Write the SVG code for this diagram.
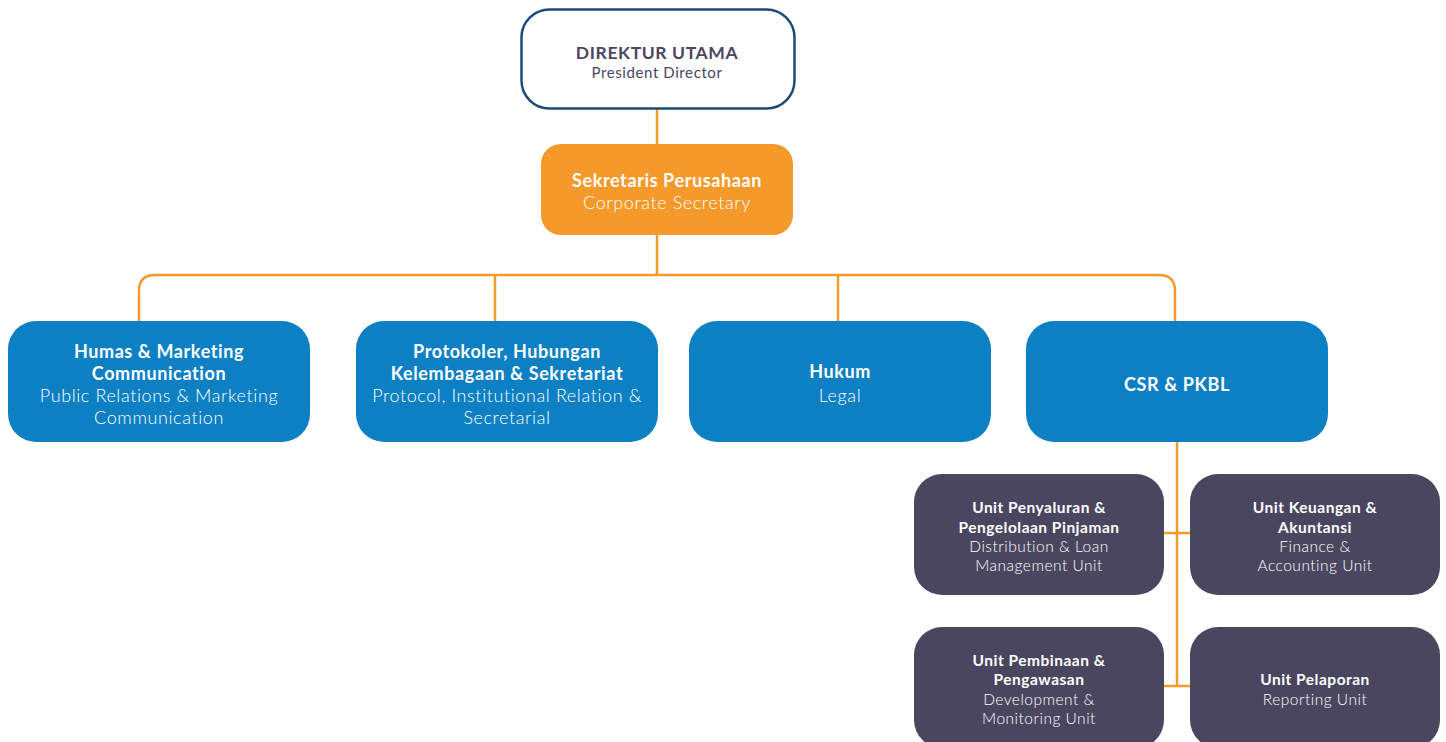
<svg xmlns="http://www.w3.org/2000/svg" width="1446" height="742" viewBox="0 0 1446 742">
  <style>
    text { font-family: Lato, "Open Sans", "Liberation Sans", sans-serif; text-anchor: middle; }
    .b { font-weight: 700; }
    .l { font-weight: 300; }
    .top { fill: #ffffff; stroke: #1d4b77; stroke-width: 2.5; }
    .sec { fill: #f5992b; }
    .dept { fill: #0d80c4; }
    .unit { fill: #4a465f; }
    .wire { fill: none; stroke: #f5992b; stroke-width: 2.5; }
    .t17 { font-size: 18px; letter-spacing: 0.6px; fill: #ffffff; }
    .t14 { font-size: 15.5px; letter-spacing: 0.5px; fill: #ffffff; }
    .head { font-size: 17.5px; letter-spacing: 0.6px; fill: #4a465f; }
    .sub { font-size: 15px; letter-spacing: 0.6px; fill: #4a465f; }
  </style>

  <!-- connectors -->
  <g id="connectors">
    <line class="wire" x1="657" y1="109" x2="657" y2="144"/>
    <line class="wire" x1="657" y1="235" x2="657" y2="275"/>
    <path class="wire" d="M139 321 V291 Q139 275 155 275 H1159 Q1175 275 1175 291 V321"/>
    <line class="wire" x1="495" y1="275" x2="495" y2="321"/>
    <line class="wire" x1="838" y1="275" x2="838" y2="321"/>
    <line class="wire" x1="1177" y1="442" x2="1177" y2="686"/>
    <line class="wire" x1="1164" y1="533" x2="1190" y2="533"/>
    <line class="wire" x1="1164" y1="686" x2="1190" y2="686"/>
  </g>

  <g id="president-director">
    <rect class="top" x="521.5" y="9.5" width="273" height="99" rx="28"/>
    <text x="657" y="59" class="b head">DIREKTUR UTAMA</text>
    <text x="657" y="78" class="sub">President Director</text>
  </g>

  <g id="corporate-secretary">
    <rect class="sec" x="541" y="144" width="252" height="91" rx="20"/>
    <text x="667" y="187" class="b t17">Sekretaris Perusahaan</text>
    <text x="667" y="209" class="l t17">Corporate Secretary</text>
  </g>

  <g id="public-relations">
    <rect class="dept" x="8" y="321" width="302" height="121" rx="28"/>
    <text x="159" y="358" class="b t17">Humas &amp; Marketing</text>
    <text x="159" y="380" class="b t17">Communication</text>
    <text x="159" y="402" class="l t17">Public Relations &amp; Marketing</text>
    <text x="159" y="424" class="l t17">Communication</text>
  </g>

  <g id="protocol">
    <rect class="dept" x="356" y="321" width="302" height="121" rx="28"/>
    <text x="507" y="358" class="b t17">Protokoler, Hubungan</text>
    <text x="507" y="380" class="b t17">Kelembagaan &amp; Sekretariat</text>
    <text x="507" y="402" class="l t17">Protocol, Institutional Relation &amp;</text>
    <text x="507" y="424" class="l t17">Secretarial</text>
  </g>

  <g id="legal">
    <rect class="dept" x="689" y="321" width="302" height="121" rx="28"/>
    <text x="840" y="378" class="b t17">Hukum</text>
    <text x="840" y="402" class="l t17">Legal</text>
  </g>

  <g id="csr-pkbl">
    <rect class="dept" x="1026" y="321" width="302" height="121" rx="28"/>
    <text x="1177" y="391" class="b t17">CSR &amp; PKBL</text>
  </g>

  <g id="distribution-loan">
    <rect class="unit" x="914" y="474" width="250" height="121" rx="28"/>
    <text x="1039" y="513" class="b t14">Unit Penyaluran &amp;</text>
    <text x="1039" y="533" class="b t14">Pengelolaan Pinjaman</text>
    <text x="1039" y="552" class="l t14">Distribution &amp; Loan</text>
    <text x="1039" y="571" class="l t14">Management Unit</text>
  </g>

  <g id="finance-accounting">
    <rect class="unit" x="1190" y="474" width="250" height="121" rx="28"/>
    <text x="1315" y="513" class="b t14">Unit Keuangan &amp;</text>
    <text x="1315" y="533" class="b t14">Akuntansi</text>
    <text x="1315" y="552" class="l t14">Finance &amp;</text>
    <text x="1315" y="571" class="l t14">Accounting Unit</text>
  </g>

  <g id="development-monitoring">
    <rect class="unit" x="914" y="627" width="250" height="121" rx="28"/>
    <text x="1039" y="666" class="b t14">Unit Pembinaan &amp;</text>
    <text x="1039" y="685" class="b t14">Pengawasan</text>
    <text x="1039" y="705" class="l t14">Development &amp;</text>
    <text x="1039" y="724" class="l t14">Monitoring Unit</text>
  </g>

  <g id="reporting">
    <rect class="unit" x="1190" y="627" width="250" height="121" rx="28"/>
    <text x="1315" y="685" class="b t14">Unit Pelaporan</text>
    <text x="1315" y="705" class="l t14">Reporting Unit</text>
  </g>
</svg>
